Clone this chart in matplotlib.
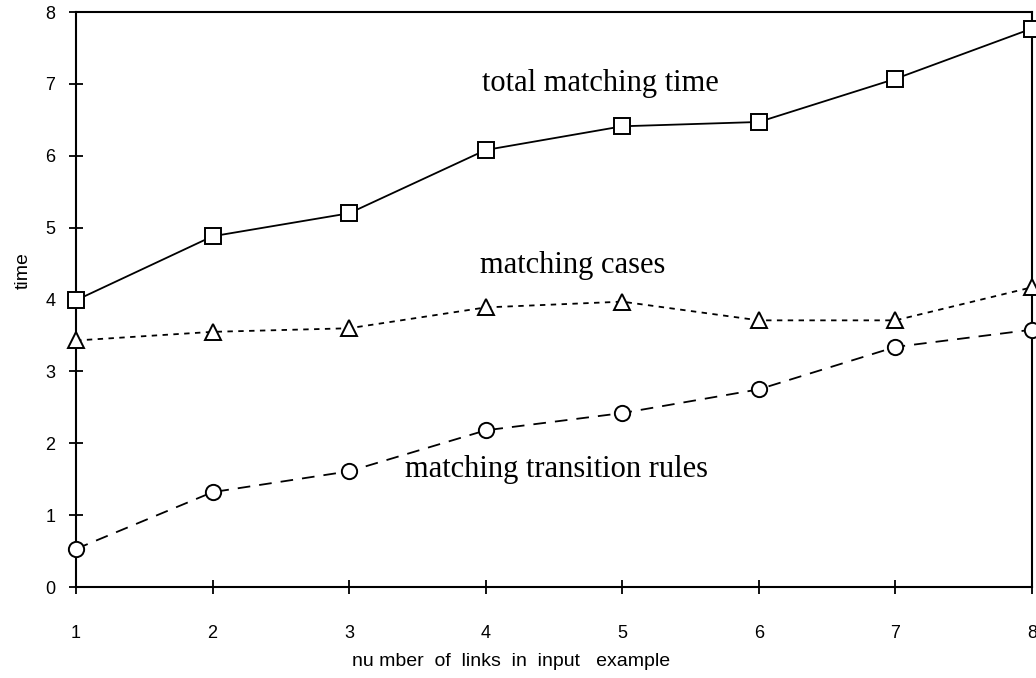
import matplotlib
matplotlib.use('Agg')
import matplotlib.pyplot as plt

# data
links = [1, 2, 3, 4, 5, 6, 7, 8]
total_time = [3.99, 4.88, 5.20, 6.08, 6.41, 6.47, 7.07, 7.77]
cases_time = [3.43, 3.55, 3.60, 3.89, 3.97, 3.71, 3.71, 4.17]
rules_time = [0.53, 1.32, 1.61, 2.18, 2.42, 2.75, 3.34, 3.58]

x_ticks = [1, 2, 3, 4, 5, 6, 7, 8]
y_ticks = [0, 1, 2, 3, 4, 5, 6, 7, 8]

fig = plt.figure(figsize=(10.36, 6.78), dpi=100)
ax = fig.add_axes([0.0734, 0.1342, 0.9227, 0.8481])

ax.plot(links, total_time, color='black', lw=1.3, marker='s', ms=11.5,
        mfc='white', mec='black', mew=1.4, clip_on=False, zorder=3)
ax.plot(links, cases_time, color='black', lw=1.3, dashes=(3, 3), marker='^', ms=11,
        mfc='white', mec='black', mew=1.4, clip_on=False, zorder=3)
ax.plot(links, rules_time, color='black', lw=1.3, dashes=(7, 5), marker='o', ms=11,
        mfc='white', mec='black', mew=1.4, clip_on=False, zorder=3)

serif = 'Liberation Serif'
ax.text(4.84, 7.0, 'total matching time', family=serif, fontsize=22, ha='center', va='center')
ax.text(4.64, 4.48, 'matching cases', family=serif, fontsize=22, ha='center', va='center')
ax.text(4.52, 1.63, 'matching transition rules', family=serif, fontsize=22, ha='center', va='center')

ax.set_xlim(1, 8)
ax.set_ylim(0, 8)
ax.set_xticks(x_ticks)
ax.set_yticks(y_ticks)

sans = 'Liberation Sans'
for lab in ax.get_xticklabels() + ax.get_yticklabels():
    lab.set_family(sans)
ax.tick_params(direction='inout', length=10, width=1.3, labelsize=13)
ax.tick_params(axis='x', pad=22)
ax.tick_params(axis='y', pad=10)

for s in ax.spines.values():
    s.set_linewidth(1.5)

ax.set_xlabel('nu mber  of  links  in  input   example', family=sans, fontsize=14)
ax.xaxis.set_label_coords(0.455, -0.115)
ax.set_ylabel('time', family=sans, fontsize=14)
ax.yaxis.set_label_coords(-0.046, 0.55)

fig.savefig('out.png', dpi=100)
